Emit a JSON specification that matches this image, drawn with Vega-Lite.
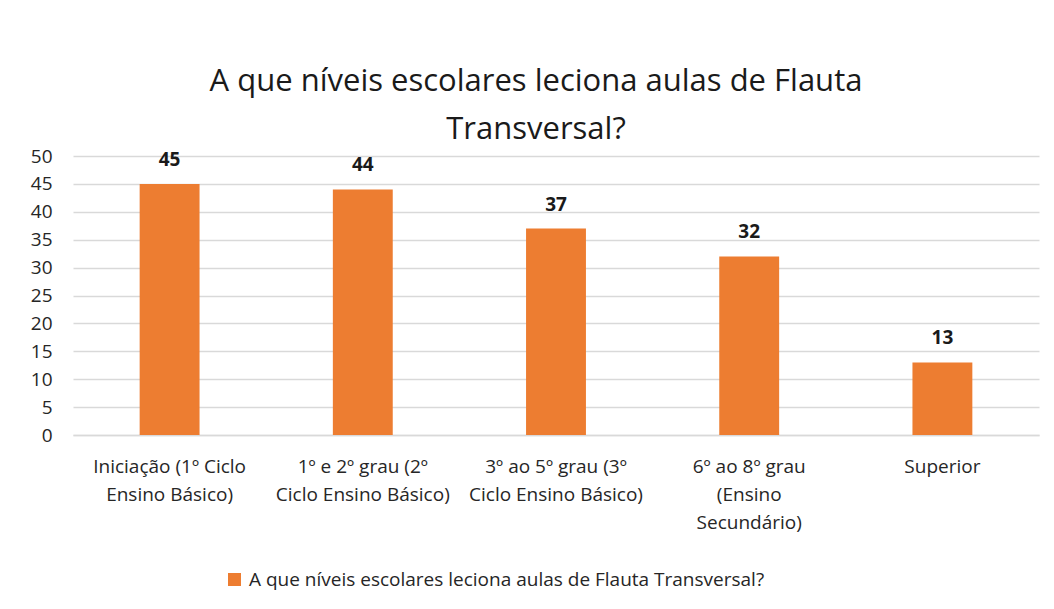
{
  "$schema": "https://vega.github.io/schema/vega-lite/v6.json",
  "autosize": {"type": "none"},
  "width": 966,
  "height": 279,
  "padding": {"left": 73, "top": 156, "right": 15, "bottom": 174},
  "background": "white",
  "title": {
    "text": ["A que níveis escolares leciona aulas de Flauta", "Transversal?"],
    "font": "Open Sans",
    "fontSize": 31,
    "fontWeight": "normal",
    "color": "#1a1a1a",
    "lineHeight": 48,
    "anchor": "middle",
    "dx": -20,
    "offset": 1
  },
  "data": {
    "values": [
      {"nivel": "Iniciação (1º Ciclo|Ensino Básico)", "valor": 45, "serie": "A que níveis escolares leciona aulas de Flauta Transversal?"},
      {"nivel": "1º e 2º grau (2º|Ciclo Ensino Básico)", "valor": 44, "serie": "A que níveis escolares leciona aulas de Flauta Transversal?"},
      {"nivel": "3º ao 5º grau (3º|Ciclo Ensino Básico)", "valor": 37, "serie": "A que níveis escolares leciona aulas de Flauta Transversal?"},
      {"nivel": "6º ao 8º grau|(Ensino|Secundário)", "valor": 32, "serie": "A que níveis escolares leciona aulas de Flauta Transversal?"},
      {"nivel": "Superior", "valor": 13, "serie": "A que níveis escolares leciona aulas de Flauta Transversal?"}
    ]
  },
  "encoding": {
    "x": {
      "field": "nivel",
      "type": "nominal",
      "sort": null,
      "scale": {"paddingInner": 0.69, "paddingOuter": 0.345},
      "axis": {
        "title": null,
        "labelAngle": 0,
        "labelExpr": "split(datum.label, '|')",
        "labelFont": "Open Sans",
        "labelFontSize": 19,
        "labelColor": "#262626",
        "labelLineHeight": 28,
        "labelPadding": 22,
        "labelBaseline": "top",
        "labelLimit": 400,
        "ticks": false,
        "domainColor": "#D9D9D9",
        "domainWidth": 1.5,
        "grid": false
      }
    },
    "y": {
      "field": "valor",
      "type": "quantitative",
      "scale": {"domain": [0, 50], "nice": false},
      "axis": {
        "title": null,
        "values": [0, 5, 10, 15, 20, 25, 30, 35, 40, 45, 50],
        "labelFont": "Open Sans",
        "labelFontSize": 19,
        "labelColor": "#262626",
        "labelPadding": 21,
        "ticks": false,
        "domain": false,
        "gridColor": "#D9D9D9",
        "gridWidth": 1.5
      }
    }
  },
  "layer": [
    {
      "mark": {"type": "bar", "color": "#ED7D31"},
      "encoding": {
        "color": {
          "field": "serie",
          "type": "nominal",
          "scale": {"range": ["#ED7D31"]},
          "legend": {
            "title": null,
            "orient": "none",
            "legendX": 152,
            "legendY": 414,
            "symbolType": "square",
            "symbolSize": 170,
            "symbolOpacity": 1,
            "labelFont": "Open Sans",
            "labelFontSize": 19,
            "labelColor": "#262626",
            "labelLimit": 800,
            "labelOffset": 5
          }
        }
      }
    },
    {
      "mark": {"type": "text", "dy": -14, "font": "Open Sans", "fontSize": 19, "fontWeight": "bold", "color": "#1a1a1a", "baseline": "bottom"},
      "encoding": {"text": {"field": "valor", "type": "quantitative"}}
    }
  ],
  "config": {"view": {"stroke": null}}
}
